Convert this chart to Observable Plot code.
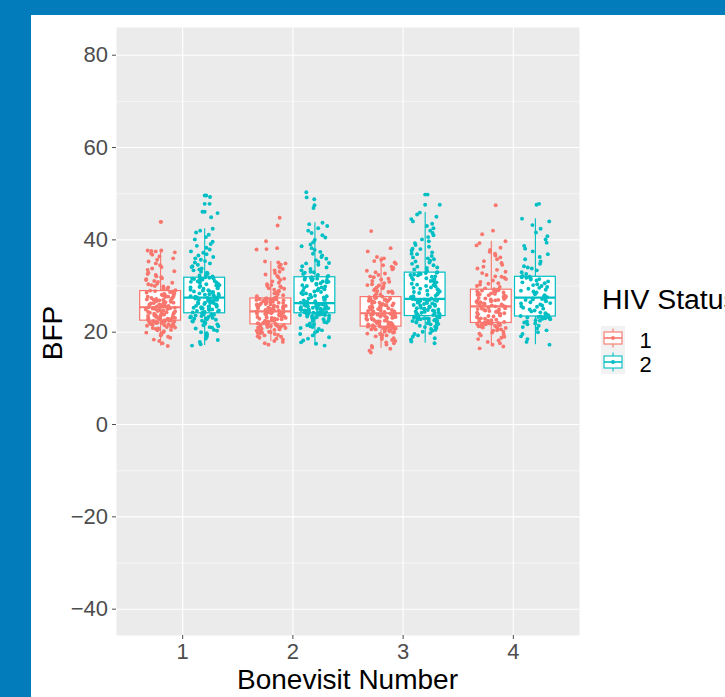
<!DOCTYPE html>
<html>
<head>
<meta charset="utf-8">
<script src="https://cdn.jsdelivr.net/npm/d3@7"></script>
<script src="https://cdn.jsdelivr.net/npm/@observablehq/plot@0.6"></script>
<style>
  html, body { margin: 0; padding: 0; background: #ffffff; }
  #wrap { position: relative; width: 725px; height: 697px; overflow: hidden; background: #ffffff; }
  #wrap > svg { position: absolute; left: 0; top: 0; }
</style>
</head>
<body>
<div id="wrap"></div>
<script>
// ---------- data ----------
const visits = [1, 2, 3, 4];
const hivLevels = ["1", "2"];
const hivColors = ["#F8766D", "#00BFC4"];
const yTicks = [-40, -20, 0, 20, 40, 60, 80];
const yMinor = [-30, -10, 10, 30, 50, 70];

// box statistics per group (HIV status, visit)
const boxHiv   = ["1", "1", "1", "1", "2", "2", "2", "2"];
const boxVisit = [1, 2, 3, 4, 1, 2, 3, 4];
const boxLo    = [17.0, 18.0, 16.5, 17.1, 17.1, 17.1, 17.6, 17.3];
const boxQ1    = [22.5, 21.7, 21.2, 22.0, 24.1, 24.1, 23.5, 23.4];
const boxMed   = [25.4, 24.5, 24.1, 25.6, 27.5, 26.3, 27.2, 27.5];
const boxQ3    = [28.9, 27.3, 27.6, 29.2, 31.8, 31.9, 32.9, 32.0];
const boxHi    = [37.7, 35.3, 36.3, 39.7, 42.4, 43.7, 45.9, 44.6];

// outliers drawn by the boxplot (at box centre)
const outHiv   = ["1", "2", "2", "2", "2", "2"];
const outVisit = [1, 1, 1, 1, 3, 3];
const outBfp   = [43.9, 49.6, 47.8, 46.1, 49.8, 47.6];

// jittered observations, BFP per group
const bfpH1V1 = [17.0,17.6,18.1,18.4,18.8,19.0,19.3,19.5,19.7,19.9,20.0,20.2,20.4,20.5,20.7,20.8,20.9,21.0,21.1,21.2,21.3,21.4,21.5,21.5,21.6,21.7,21.8,21.8,21.9,22.0,22.0,22.1,22.1,22.2,22.2,22.3,22.3,22.4,22.4,22.5,
22.6,22.6,22.7,22.8,22.8,22.9,23.0,23.0,23.1,23.2,23.3,23.3,23.4,23.5,23.5,23.6,23.7,23.8,23.9,23.9,24.0,24.1,24.2,24.2,24.3,24.4,24.5,24.5,24.6,24.7,24.8,24.8,24.9,25.0,25.0,25.1,25.2,25.3,25.3,25.4,
25.5,25.6,25.6,25.7,25.8,25.9,26.0,26.0,26.1,26.2,26.3,26.4,26.5,26.5,26.6,26.7,26.8,26.9,27.0,27.0,27.1,27.2,27.3,27.4,27.5,27.6,27.7,27.7,27.8,27.9,28.0,28.1,28.2,28.3,28.4,28.5,28.6,28.7,28.8,28.9,
29.0,29.1,29.3,29.4,29.6,29.7,29.9,30.0,30.2,30.4,30.5,30.7,30.9,31.1,31.3,31.5,31.7,31.9,32.1,32.4,32.6,32.9,33.2,33.5,33.8,34.1,34.5,34.9,35.3,35.7,36.0,36.4,36.8,37.1,37.3,37.5,37.6,37.7,37.7,43.9];
const bfpH2V1 = [17.1,17.4,17.9,18.3,18.6,19.0,19.2,19.5,19.8,20.0,20.3,20.5,20.8,21.0,21.1,21.3,21.5,21.7,21.8,22.0,22.1,22.3,22.4,22.5,22.7,22.8,22.9,23.0,23.1,23.2,23.3,23.4,23.5,23.6,23.7,23.8,23.8,23.9,24.0,24.1,
24.2,24.3,24.4,24.4,24.5,24.6,24.7,24.8,24.9,25.0,25.1,25.2,25.3,25.4,25.5,25.5,25.6,25.7,25.8,25.9,26.0,26.1,26.2,26.3,26.3,26.4,26.5,26.6,26.7,26.8,26.9,26.9,27.0,27.1,27.2,27.2,27.3,27.4,27.4,27.5,
27.6,27.7,27.8,27.9,28.0,28.1,28.2,28.3,28.4,28.6,28.7,28.8,28.9,29.0,29.1,29.2,29.4,29.5,29.6,29.7,29.8,30.0,30.1,30.2,30.3,30.4,30.5,30.7,30.8,30.9,31.0,31.1,31.2,31.3,31.4,31.5,31.6,31.7,31.7,31.8,
31.9,32.1,32.3,32.5,32.7,32.9,33.1,33.4,33.6,33.8,34.1,34.3,34.6,34.9,35.1,35.4,35.7,36.0,36.3,36.6,36.9,37.2,37.5,37.9,38.3,38.7,39.1,39.6,40.1,40.6,41.1,41.6,42.0,42.4,45.8,46.1,47.8,49.3,49.6,44.9];
const bfpH1V2 = [17.3,17.6,17.9,18.1,18.4,18.6,18.8,19.0,19.1,19.3,19.4,19.6,19.7,19.8,19.9,20.0,20.1,20.2,20.3,20.4,20.5,20.6,20.7,20.7,20.8,20.9,21.0,21.0,21.1,21.2,21.2,21.3,21.4,21.4,21.5,21.5,21.6,21.6,21.7,21.7,
21.8,21.9,21.9,22.0,22.1,22.2,22.2,22.3,22.4,22.5,22.5,22.6,22.7,22.8,22.8,22.9,23.0,23.1,23.1,23.2,23.3,23.4,23.4,23.5,23.6,23.7,23.7,23.8,23.9,24.0,24.0,24.1,24.2,24.2,24.3,24.3,24.4,24.4,24.5,24.5,
24.6,24.7,24.7,24.8,24.9,25.0,25.0,25.1,25.2,25.3,25.3,25.4,25.5,25.6,25.6,25.7,25.8,25.9,26.0,26.0,26.1,26.2,26.3,26.3,26.4,26.5,26.6,26.6,26.7,26.8,26.8,26.9,27.0,27.0,27.1,27.1,27.2,27.2,27.3,27.3,
27.4,27.6,27.8,28.0,28.2,28.4,28.6,28.8,29.0,29.2,29.4,29.7,29.9,30.2,30.4,30.7,31.0,31.3,31.6,31.9,32.2,32.5,32.8,33.1,33.4,33.7,34.0,34.3,34.6,34.9,35.1,35.3,37.9,38.0,38.2,39.7,43.1,44.8,29.5,30.0];
const bfpH2V2 = [17.1,17.5,17.8,18.2,18.6,18.9,19.3,19.6,19.9,20.2,20.4,20.7,20.9,21.1,21.3,21.5,21.7,21.9,22.1,22.2,22.4,22.5,22.7,22.8,22.9,23.0,23.1,23.2,23.3,23.4,23.5,23.6,23.7,23.7,23.8,23.9,23.9,24.0,24.0,24.1,
24.2,24.2,24.3,24.3,24.4,24.4,24.5,24.5,24.6,24.7,24.7,24.8,24.8,24.9,25.0,25.0,25.1,25.1,25.2,25.3,25.3,25.4,25.4,25.5,25.6,25.6,25.7,25.7,25.8,25.9,25.9,26.0,26.0,26.1,26.1,26.2,26.2,26.2,26.3,26.3,
26.4,26.6,26.7,26.9,27.0,27.2,27.3,27.5,27.6,27.8,27.9,28.1,28.2,28.4,28.5,28.7,28.8,29.0,29.1,29.3,29.4,29.6,29.7,29.9,30.0,30.2,30.3,30.5,30.6,30.8,30.9,31.0,31.2,31.3,31.4,31.5,31.6,31.7,31.8,31.9,
32.0,32.2,32.4,32.6,32.9,33.1,33.4,33.7,34.0,34.3,34.6,34.9,35.2,35.6,35.9,36.3,36.6,37.0,37.4,37.8,38.2,38.6,39.0,39.5,40.0,40.5,41.0,41.5,42.0,42.5,43.0,43.4,43.7,46.9,47.5,48.8,49.2,50.3,33.0,35.0];
const bfpH1V3 = [15.6,16.0,16.4,16.7,17.0,17.3,17.6,17.8,18.1,18.3,18.5,18.7,18.9,19.1,19.3,19.4,19.6,19.7,19.9,20.0,20.1,20.2,20.3,20.4,20.5,20.6,20.6,20.7,20.8,20.8,20.9,20.9,21.0,21.0,21.0,21.1,21.1,21.1,21.2,21.2,
21.3,21.3,21.4,21.5,21.6,21.6,21.7,21.8,21.9,22.0,22.0,22.1,22.2,22.3,22.3,22.4,22.5,22.6,22.7,22.7,22.8,22.9,23.0,23.0,23.1,23.2,23.3,23.3,23.4,23.5,23.6,23.6,23.7,23.8,23.8,23.9,23.9,24.0,24.0,24.1,
24.2,24.3,24.4,24.5,24.5,24.6,24.7,24.8,24.9,25.0,25.1,25.2,25.3,25.4,25.5,25.6,25.7,25.8,25.8,25.9,26.0,26.1,26.2,26.3,26.4,26.5,26.6,26.7,26.8,26.9,27.0,27.0,27.1,27.2,27.3,27.3,27.4,27.5,27.5,27.6,
27.7,27.9,28.1,28.3,28.5,28.7,28.9,29.1,29.3,29.5,29.7,29.9,30.2,30.4,30.6,30.9,31.1,31.4,31.6,31.9,32.1,32.4,32.7,33.0,33.3,33.6,33.9,34.2,34.5,34.8,35.1,35.4,35.7,36.0,36.3,37.5,38.2,41.9,28.8,30.1];
const bfpH2V3 = [17.6,18.0,18.4,18.7,19.0,19.3,19.6,19.8,20.1,20.3,20.5,20.7,20.9,21.1,21.2,21.4,21.5,21.7,21.8,21.9,22.0,22.1,22.2,22.3,22.4,22.5,22.6,22.7,22.8,22.8,22.9,23.0,23.0,23.1,23.2,23.2,23.3,23.4,23.4,23.5,
23.6,23.7,23.8,23.9,24.0,24.1,24.2,24.3,24.4,24.5,24.6,24.7,24.8,24.9,25.0,25.1,25.2,25.3,25.4,25.5,25.6,25.7,25.8,25.9,26.0,26.1,26.2,26.3,26.4,26.5,26.6,26.7,26.8,26.8,26.9,27.0,27.0,27.1,27.1,27.2,
27.3,27.5,27.6,27.8,27.9,28.1,28.2,28.4,28.5,28.7,28.8,29.0,29.1,29.3,29.4,29.6,29.7,29.9,30.0,30.2,30.3,30.5,30.6,30.8,30.9,31.1,31.2,31.4,31.5,31.7,31.8,32.0,32.1,32.3,32.4,32.5,32.6,32.7,32.8,32.9,
33.0,33.3,33.6,33.9,34.2,34.5,34.8,35.1,35.5,35.8,36.2,36.5,36.9,37.3,37.7,38.1,38.5,38.9,39.3,39.7,40.1,40.6,41.0,41.5,42.0,42.5,43.0,43.5,44.0,44.5,45.0,45.5,45.9,47.6,49.8,34.0,35.3,36.0,37.0,38.0];
const bfpH1V4 = [16.5,16.9,17.3,17.6,17.9,18.2,18.5,18.8,19.0,19.3,19.5,19.7,19.9,20.1,20.3,20.4,20.6,20.7,20.9,21.0,21.1,21.2,21.3,21.4,21.5,21.6,21.6,21.7,21.7,21.8,21.8,21.9,21.9,22.0,22.0,
22.1,22.2,22.3,22.4,22.5,22.6,22.7,22.8,22.9,23.0,23.2,23.3,23.4,23.5,23.6,23.7,23.8,23.9,24.0,24.1,24.2,24.3,24.4,24.5,24.6,24.7,24.8,24.9,25.0,25.1,25.2,25.3,25.4,25.5,25.6,
25.7,25.8,25.9,26.0,26.1,26.2,26.3,26.5,26.6,26.7,26.8,26.9,27.0,27.1,27.2,27.3,27.4,27.5,27.6,27.7,27.8,27.9,28.0,28.1,28.2,28.3,28.4,28.5,28.6,28.7,28.8,28.9,29.0,29.1,29.2,
29.3,29.5,29.8,30.0,30.3,30.6,30.9,31.2,31.5,31.8,32.1,32.4,32.8,33.1,33.5,33.8,34.2,34.6,35.0,35.4,35.8,36.2,36.6,37.0,37.4,37.8,38.3,38.8,39.3,39.7,41.2,42.0,47.5,30.5,32.0];
const bfpH2V4 = [17.3,17.9,18.5,19.1,19.6,20.0,20.4,20.8,21.1,21.4,21.7,21.9,22.1,22.3,22.5,22.6,22.8,22.9,23.0,23.1,23.2,23.3,23.3,23.4,23.4,
23.5,23.7,23.9,24.1,24.3,24.5,24.7,24.9,25.1,25.3,25.5,25.6,25.8,26.0,26.2,26.3,26.5,26.7,26.8,27.0,27.1,27.2,27.3,27.4,27.5,
27.6,27.8,28.0,28.2,28.4,28.6,28.8,29.0,29.2,29.4,29.6,29.8,30.0,30.2,30.4,30.6,30.8,31.0,31.2,31.4,31.5,31.7,31.8,31.9,32.0,
32.2,32.6,33.0,33.4,33.8,34.3,34.8,35.3,35.8,36.3,36.9,37.5,38.1,38.7,39.4,40.1,40.8,41.6,42.4,43.2,44.0,44.6,47.6,47.8,34.0];

// ---------- tables ----------
const groups = [
  ["1", 1, bfpH1V1], ["2", 1, bfpH2V1],
  ["1", 2, bfpH1V2], ["2", 2, bfpH2V2],
  ["1", 3, bfpH1V3], ["2", 3, bfpH2V3],
  ["1", 4, bfpH1V4], ["2", 4, bfpH2V4]
];
const dodge = hiv => (hiv === "1" ? -0.2 : 0.2);   // dodge offset (in visit units)
const halfBox = 0.185;
const jitterHalf = 0.135;
// deterministic jitter spread
function spread(i, g) {
  const s = Math.sin((i + 1) * 12.9898 + (g + 1) * 78.233) * 43758.5453;
  return (s - Math.floor(s)) * 2 - 1;
}
const points = [];
groups.forEach(([hiv, visit, vals], g) => {
  vals.forEach((v, i) => points.push({hiv, visit, bfp: v, jx: visit + dodge(hiv) + spread(i, g) * jitterHalf}));
});
const boxes = boxHiv.map((h, i) => ({
  hiv: h, visit: boxVisit[i], lo: boxLo[i], q1: boxQ1[i], med: boxMed[i], q3: boxQ3[i], hi: boxHi[i]
}));
const outliers = outHiv.map((h, i) => ({hiv: h, visit: outVisit[i], bfp: outBfp[i]}));

const font = "'Liberation Sans', Arial, Helvetica, sans-serif";

const chart = Plot.plot({
  width: 725,
  height: 697,
  marginLeft: 116,
  marginRight: 146,
  marginTop: 27,
  marginBottom: 62,
  style: {fontFamily: font, fontSize: "22px", background: "transparent", color: "#4d4d4d"},
  x: {domain: [0.4, 4.6], label: null},
  y: {domain: [-45.7, 86], label: null},
  color: {domain: hivLevels, range: hivColors},
  marks: [
    Plot.frame({fill: "#ebebeb"}),
    Plot.ruleY(yMinor, {stroke: "#ffffff", strokeWidth: 0.55}),
    Plot.ruleY(yTicks, {stroke: "#ffffff", strokeWidth: 1.1}),
    Plot.ruleX(visits, {stroke: "#ffffff", strokeWidth: 1.1}),
    Plot.axisY({ticks: yTicks, tickSize: 4, tickPadding: 4.5, color: "#4d4d4d", fontSize: 22, label: null}),
    Plot.axisX({ticks: visits, tickFormat: d3.format("d"), tickSize: 4, tickPadding: 4, color: "#4d4d4d", fontSize: 22, label: null}),
    // whiskers
    Plot.ruleX(boxes, {x: d => d.visit + dodge(d.hiv), y1: "lo", y2: "hi", stroke: "hiv", strokeWidth: 1.1}),
    // boxes
    Plot.rect(boxes, {
      x1: d => d.visit + dodge(d.hiv) - halfBox,
      x2: d => d.visit + dodge(d.hiv) + halfBox,
      y1: "q1", y2: "q3", fill: "#ffffff", stroke: "hiv", strokeWidth: 1.2
    }),
    // medians
    Plot.ruleY(boxes, {
      y: "med",
      x1: d => d.visit + dodge(d.hiv) - halfBox,
      x2: d => d.visit + dodge(d.hiv) + halfBox,
      stroke: "hiv", strokeWidth: 2.2
    }),
    // boxplot outliers
    Plot.dot(outliers, {x: d => d.visit + dodge(d.hiv), y: "bfp", fill: "hiv", r: 1.95}),
    // jittered points
    Plot.dot(points, {x: "jx", y: "bfp", fill: "hiv", r: 1.95})
  ]
});

const wrap = document.getElementById("wrap");
wrap.appendChild(chart);

// ---------- overlay: axis titles, legend, frame ----------
const ov = d3.create("svg")
  .attr("width", 725).attr("height", 697)
  .attr("font-family", font);

ov.append("text").attr("x", 347.5).attr("y", 689).attr("text-anchor", "middle")
  .attr("font-size", 28).attr("fill", "#000").text("Bonevisit Number");
ov.append("text").attr("transform", "translate(62,333) rotate(-90)").attr("text-anchor", "middle")
  .attr("font-size", 28).attr("fill", "#000").text("BFP");

// legend
ov.append("text").attr("x", 602).attr("y", 309).attr("font-size", 28.4).attr("fill", "#000").text("HIV Status");
hivLevels.forEach((lvl, i) => {
  const x0 = 601, y0 = 326 + i * 24, s = 24, c = hivColors[i];
  const g = ov.append("g");
  g.append("rect").attr("x", x0).attr("y", y0).attr("width", s).attr("height", s).attr("fill", "#f2f2f2");
  g.append("line").attr("x1", x0 + s / 2).attr("x2", x0 + s / 2).attr("y1", y0 + s * 0.1).attr("y2", y0 + s * 0.9)
    .attr("stroke", c).attr("stroke-width", 1.1);
  g.append("rect").attr("x", x0 + s * 0.125).attr("y", y0 + s * 0.25).attr("width", s * 0.75).attr("height", s * 0.5)
    .attr("fill", "#fff").attr("stroke", c).attr("stroke-width", 1.1);
  g.append("line").attr("x1", x0 + s * 0.125).attr("x2", x0 + s * 0.875).attr("y1", y0 + s / 2).attr("y2", y0 + s / 2)
    .attr("stroke", c).attr("stroke-width", 1.6);
  g.append("circle").attr("cx", x0 + s / 2).attr("cy", y0 + s / 2).attr("r", 1.9).attr("fill", c);
  ov.append("text").attr("x", 639.5).attr("y", y0 + 22).attr("font-size", 22).attr("fill", "#000").text(lvl);
});

// blue page frame
ov.append("rect").attr("x", 0).attr("y", 0).attr("width", 725).attr("height", 15).attr("fill", "#027cba");
ov.append("rect").attr("x", 0).attr("y", 0).attr("width", 31).attr("height", 697).attr("fill", "#027cba");

wrap.appendChild(ov.node());
</script>
</body>
</html>
